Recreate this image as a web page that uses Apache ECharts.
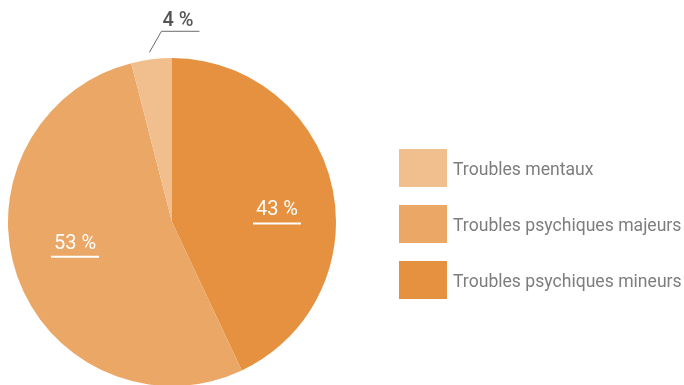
<!DOCTYPE html>
<html>
<head>
<meta charset="utf-8">
<script src="https://cdn.jsdelivr.net/npm/echarts@6/dist/echarts.min.js"></script>
<style>
  html, body { margin: 0; padding: 0; background: #ffffff; }
  #chart { width: 684px; height: 385px; }
</style>
</head>
<body>
<div id="chart"></div>
<script>
// Slices, drawn clockwise from twelve o'clock
const categories = ['Troubles psychiques mineurs', 'Troubles psychiques majeurs', 'Troubles mentaux'];
const shares = [43, 53, 4];
const sliceColors = ['#E5913F', '#EBA766', '#F1BF8D'];
// Legend reads from the lightest to the darkest
const legendOrder = ['Troubles mentaux', 'Troubles psychiques majeurs', 'Troubles psychiques mineurs'];

const FONT = 'Roboto, "Noto Sans", sans-serif';

const insideLabel = {
  show: true,
  position: 'inside',
  formatter: p => '{v|' + p.value + ' %}\n{u|}',
  rich: {
    v: { fontFamily: FONT, fontSize: 20, color: '#ffffff', align: 'center', lineHeight: 24 },
    u: { width: 48, height: 2, backgroundColor: '#ffffff', align: 'center' }
  }
};

const data = categories.map((name, i) => {
  const item = { name, value: shares[i], itemStyle: { color: sliceColors[i] } };
  if (i === 2) {
    item.label = {
      show: true,
      position: 'outside',
      formatter: '{c} %',
      fontFamily: FONT,
      fontSize: 20,
      fontWeight: 500,
      color: '#555555',
      lineHeight: 20
    };
    item.labelLine = { show: true, lineStyle: { color: '#6a6a6a', width: 1 } };
  } else {
    item.label = insideLabel;
    item.labelLine = { show: false };
  }
  return item;
});

const chart = echarts.init(document.getElementById('chart'), null, { renderer: 'canvas' });
chart.setOption({
  animation: false,
  backgroundColor: '#ffffff',
  legend: {
    data: legendOrder,
    orient: 'vertical',
    left: 394,
    top: 144,
    itemWidth: 48,
    itemHeight: 38,
    itemGap: 18,
    icon: 'rect',
    selectedMode: false,
    formatter: name => '{t|' + name + '}',
    textStyle: {
      fontFamily: FONT, fontSize: 17.6, color: '#7d7d7d',
      rich: { t: { fontFamily: FONT, fontSize: 17.6, color: '#7d7d7d', padding: [6, 0, 0, 1] } }
    }
  },
  series: [{
    type: 'pie',
    center: [172, 222],
    radius: 164,
    startAngle: 90,
    clockwise: true,
    avoidLabelOverlap: false,
    itemStyle: { borderWidth: 0 },
    emphasis: { disabled: true },
    data: data,
    labelLayout: function (p) {
      if (p.dataIndex === 2) {
        // small share: lift the label above the rim with an elbow line to the right
        const s = p.labelLinePoints[0];
        return {
          x: s[0] + 11,
          y: s[1] - 28,
          align: 'left',
          verticalAlign: 'bottom',
          labelLinePoints: [[s[0] - 2, s[1] - 7], [s[0] + 10, s[1] - 28], [s[0] + 48, s[1] - 28]]
        };
      }
      if (p.dataIndex === 0) return { dx: 22, dy: 8 };
      return { dx: -17, dy: -6 };
    }
  }]
});
</script>
</body>
</html>
